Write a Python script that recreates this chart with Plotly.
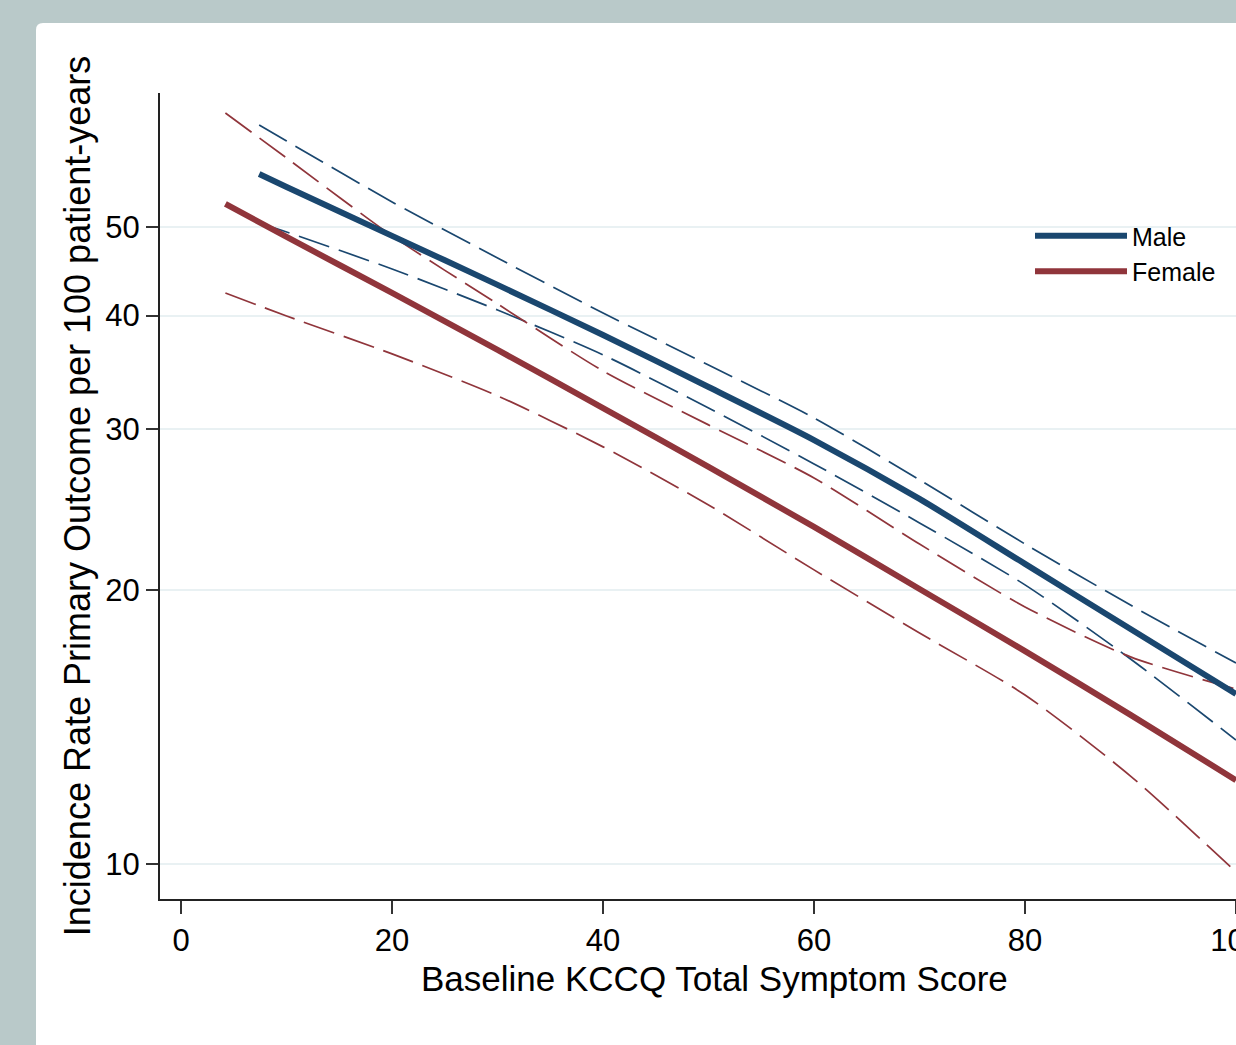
import plotly.graph_objects as go

# ---- data ----
x_male = [7.4, 10, 20, 30, 40, 50, 60, 70, 80, 90, 100]
male_rate = [57.20, 55.35, 48.92, 43.22, 38.08, 33.39, 29.20, 25.16, 21.35, 18.11, 15.37]
male_hi = [64.74, 62.17, 53.30, 46.26, 40.25, 35.30, 30.88, 26.41, 22.45, 19.24, 16.62]
male_lo = [50.53, 49.40, 44.99, 40.56, 36.21, 31.66, 27.49, 23.68, 20.25, 16.79, 13.68]

x_female = [4.2, 10, 20, 30, 40, 50, 60, 70, 80, 90, 100]
female_rate = [53.03, 48.79, 42.35, 36.67, 31.66, 27.28, 23.44, 20.04, 17.13, 14.58, 12.36]
female_hi = [66.74, 59.56, 48.92, 41.19, 34.77, 30.34, 26.53, 22.45, 19.15, 16.88, 15.56]
female_lo = [42.35, 39.95, 36.30, 32.65, 28.70, 24.78, 21.03, 17.93, 15.33, 12.49, 9.80]

y_ticks = [10, 20, 30, 40, 50]
x_ticks = [0, 20, 40, 60, 80, 100]

BLUE = "#1a476f"
RED = "#90353b"
FONT = "Liberation Sans, Arial, Helvetica, sans-serif"
DASH = "32px,10px"

fig = go.Figure()

for xs, ys, col in [(x_male, male_hi, BLUE), (x_male, male_lo, BLUE),
                    (x_female, female_hi, RED), (x_female, female_lo, RED)]:
    fig.add_trace(go.Scatter(x=xs, y=ys, mode="lines", showlegend=False,
                             line=dict(color=col, width=1.7, dash=DASH, shape="spline", smoothing=0.7),
                             hoverinfo="skip"))

fig.add_trace(go.Scatter(x=x_male, y=male_rate, mode="lines", name="Male", legendgroup="m",
                         line=dict(color=BLUE, width=6, shape="spline", smoothing=0.7)))
fig.add_trace(go.Scatter(x=x_female, y=female_rate, mode="lines", name="Female", legendgroup="f",
                         line=dict(color=RED, width=6, shape="spline", smoothing=0.7)))

W, H = 1236, 1045
ML, MR, MT, MB = 160, 0, 93, 146
pw, ph = W - ML - MR, H - MT - MB

def px(x):
    return (x - ML) / pw

def py(y):
    return (H - MB - y) / ph

# white rounded panel behind the chart
x0, x1 = px(36), px(1300)
yt, yb = py(23), py(1100)
rx, ry = 7 / pw, 7 / ph
panel_path = (f"M{x0},{yb} L{x0},{yt - ry} Q{x0},{yt} {x0 + rx},{yt} "
              f"L{x1},{yt} L{x1},{yb} Z")
fig.add_shape(type="path", path=panel_path, xref="paper", yref="paper",
              fillcolor="white", line=dict(width=0), layer="below")

# x axis title (centered on the original, wider plot region)
fig.add_annotation(text="Baseline KCCQ Total Symptom Score", xref="paper", yref="paper",
                   x=px(714), y=py(978), xanchor="center", yanchor="middle",
                   showarrow=False, font=dict(family=FONT, size=35, color="black"))

fig.update_layout(
    width=W, height=H,
    margin=dict(l=ML, r=MR, t=MT, b=MB, pad=0),
    paper_bgcolor="#b9c9c9",
    plot_bgcolor="white",
    font=dict(family=FONT, color="black"),
    legend=dict(x=px(1030), y=py(213), xanchor="left", yanchor="top",
                bgcolor="rgba(0,0,0,0)", font=dict(family=FONT, size=25, color="black"),
                itemwidth=92, tracegroupgap=0),
    showlegend=True,
)

fig.update_xaxes(range=[-2, 100], tickvals=x_ticks, ticktext=[str(v) for v in x_ticks],
                 ticks="outside", ticklen=13, tickwidth=2, tickcolor="#333333",
                 showline=True, linecolor="#222222", linewidth=2,
                 showgrid=False, zeroline=False, automargin=False,
                 ticklabeloverflow="allow",
                 tickfont=dict(family=FONT, size=31, color="black"))

fig.update_yaxes(type="log", range=[0.9616, 1.8463], tickvals=y_ticks,
                 ticktext=[str(v) for v in y_ticks],
                 ticks="outside", ticklen=12, tickwidth=2, tickcolor="#333333",
                 showline=True, linecolor="#222222", linewidth=2,
                 showgrid=True, gridcolor="#e9f1f3", gridwidth=2, zeroline=False,
                 automargin=False,
                 tickfont=dict(family=FONT, size=31, color="black"),
                 title=dict(text="Incidence Rate Primary Outcome per 100 patient-years",
                            font=dict(family=FONT, size=36, color="black"), standoff=4))

fig.write_html("out.html",
               config={"displayModeBar": False},
               post_script="document.body.style.margin='0';document.body.style.overflow='hidden';")
